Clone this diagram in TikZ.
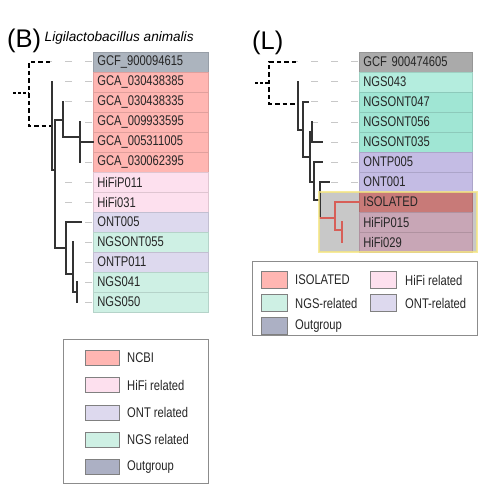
\documentclass[tikz,border=0pt]{standalone}
\usepackage{fontspec}
\setmainfont{Liberation Sans}
\newfontfamily\nf[FakeStretch=0.8]{Liberation Sans}
\definecolor{ncbi}{RGB}{255,182,178}
\definecolor{outL}{RGB}{172,180,190}
\definecolor{hifi}{RGB}{253,224,238}
\definecolor{ont}{RGB}{221,217,238}
\definecolor{ngs}{RGB}{206,240,228}
\definecolor{rout}{RGB}{170,170,170}
\definecolor{rngsa}{RGB}{180,237,222}
\definecolor{rngsb}{RGB}{160,230,212}
\definecolor{ront}{RGB}{196,188,228}
\definecolor{riso}{RGB}{200,122,120}
\definecolor{rhifi}{RGB}{200,166,182}
\definecolor{clade}{RGB}{200,200,200}
\definecolor{cladeB}{RGB}{245,230,130}
\definecolor{legout}{RGB}{172,176,196}
\definecolor{redbr}{RGB}{215,95,88}
\definecolor{leadc}{RGB}{200,200,200}
\begin{document}
\begin{tikzpicture}[x=1pt,y=-1pt,
  leafbox/.style={anchor=west, minimum height=20pt, inner xsep=4pt, inner ysep=0pt,
    text width=#1, align=left, text=black!85, line width=0.6pt,
    font=\nf\fontsize{14}{15}\selectfont},
  leafbox/.default=107pt,
  leaderline/.style={draw=leadc, line width=1pt, dash pattern=on 7pt off 13pt},
  tree/.style={draw=black!80, line width=1.3pt, line join=miter, line cap=rect},
  redtree/.style={draw=redbr, line width=1.3pt, line cap=rect},
  outg/.style={draw=black, line width=2.3pt, dash pattern=on 4.5pt off 3pt},
  rootstub/.style={draw=black, line width=2pt, dash pattern=on 2.5pt off 2.5pt},
  swatch/.style={draw=black!50, line width=0.6pt, inner sep=0pt},
  legtext/.style={anchor=west, inner sep=0pt, text=black!85, font=\nf\fontsize{14}{15}\selectfont},
  legframe/.style={draw=black!45, line width=0.7pt}
]
\useasboundingbox (0,0) rectangle (496,500);
\fill[white] (0,0) rectangle (496,500);

% titles
\node[anchor=base west, inner sep=0pt, font=\fontsize{25.5}{26}\selectfont] (tB) at (7,47.5) {(B)};
\node[anchor=base west, inner sep=0pt, font=\itshape\fontsize{13.6}{14}\selectfont] (sp) at (44.5,42) {Ligilactobacillus animalis};
\node[anchor=base west, inner sep=0pt, font=\fontsize{25.5}{26}\selectfont] (tL) at (252,49.5) {(L)};

% ---------- left panel ----------
\foreach \i/\t/\c/\tip in {0/GCF\_900094615/outL/50, 1/GCA\_030438385/ncbi/52, 2/GCA\_030438335/ncbi/63,
  3/GCA\_009933595/ncbi/80, 4/GCA\_005311005/ncbi/92, 5/GCA\_030062395/ncbi/80,
  6/HiFiP011/hifi/55, 7/HiFi031/hifi/55, 8/ONT005/ont/81, 9/NGSONT055/ngs/73,
  10/ONTP011/ont/73, 11/NGS041/ngs/77, 12/NGS050/ngs/77}{
  \coordinate (lt\i) at (\tip,{62+20*\i});
  \node[leafbox, fill=\c, draw=\c!88!black] (L\i) at (93,{62+20*\i}) {\t};
  \draw[leaderline] ([xshift=-1pt]L\i.west) -- (lt\i);
}
% outgroup bracket
\coordinate (lroot) at (29,93);
\coordinate (lin) at (51,126);
\draw[rootstub] (13,93) -- (lroot);
\draw[outg] (lt0) -- (29,62) -- (29,126) -- (lin);
% ingroup
\coordinate (lA) at (52,170);
\coordinate (lB) at (55,120);
\coordinate (lC) at (63,137);
\coordinate (lD) at (80,142);
\coordinate (lE) at (66,248);
\coordinate (lF) at (73,274);
\coordinate (lG) at (77,292);
\draw[tree] (lt1) -- (lA) -- (55,170);
\draw[tree] (63,120) -- (lB) -- (55,248) -- (lE);
\draw[tree, line width=2.6pt, line cap=butt] (55,180) -- (55,222);
\draw[tree] (lt2) -- (63,137) -- (80,137);
\draw[tree] (lt3) -- (lt5);
\draw[tree] (lD) -- (L4.west);
\draw[tree] (lt8) -- (66,222) -- (66,274) -- (lF);
\draw[tree] (lt9) -- (73,292) -- (lG);
\draw[tree] (lt11) -- (lt12);

% left legend
\draw[legframe] (63,339) rectangle (208,483);
\foreach \j/\t/\c in {0/NCBI/ncbi, 1/HiFi related/hifi, 2/ONT related/ont, 3/NGS related/ngs, 4/Outgroup/legout}{
  \node[swatch, fill=\c, minimum width=34pt, minimum height=15pt] (ls\j) at (102,{358+27.2*\j}) {};
  \node[legtext] (ll\j) at (127,{358+27.2*\j}) {\t};
}

% ---------- right panel ----------
\fill[clade] (319,192) rectangle (477,252);
\foreach \i/\t/\c/\tip in {0/GCF 900474605/rout/296, 1/NGS043/rngsa/298, 2/NGSONT047/rngsb/308,
  3/NGSONT056/rngsb/312, 4/NGSONT035/rngsb/322, 5/ONTP005/ront/322, 6/ONT001/ront/329,
  7/ISOLATED/riso/358, 8/HiFiP015/rhifi/342, 9/HiFi029/rhifi/342}{
  \coordinate (rt\i) at (\tip,{62+20*\i});
  \node[leafbox=105pt, fill=\c, draw=\c!88!black] (R\i) at (359,{62+20*\i}) {\t};
  \draw[leaderline] ([xshift=-1pt]R\i.west) -- (rt\i);
}
\coordinate (rroot) at (269,83);
\coordinate (rin) at (298,104);
\draw[rootstub] (255,83) -- (rroot);
\draw[outg] (rt0) -- (269,62) -- (269,104) -- (rin);
\coordinate (rN2) at (303,130);
\coordinate (rN3) at (310,157);
\coordinate (rN4) at (312,132);
\coordinate (rN5) at (314,182);
\coordinate (rN6) at (320,200);
\coordinate (rN7) at (335,218);
\coordinate (rN8) at (342,230);
\draw[tree] (rt1) -- (298,130) -- (rN2);
\draw[tree] (rt2) -- (303,102) -- (303,157) -- (rN3);
\draw[tree] (rN4) -- (310,132) -- (310,182) -- (rN5);
\draw[tree] (rt3) -- (312,142) -- (rt4);
\draw[tree] (rt5) -- (314,162) -- (314,200) -- (rN6);
\draw[tree] (rt6) -- (320,182) -- (320,218);
\draw[redtree] (320,218) -- (rN7);
\draw[redtree] (R7.west) -- (335,202) -- (335,230) -- (rN8);
\draw[redtree] (rt8) -- (rt9);
\draw[draw=cladeB, line width=1.4pt, opacity=0.8] (319,192) rectangle (477,252);

% right legend
\draw[legframe] (252,261) rectangle (477,335);
\foreach \j/\t/\c in {0/ISOLATED/ncbi, 1/NGS-related/ngs, 2/Outgroup/legout}{
  \node[swatch, fill=\c, minimum width=26pt, minimum height=17pt] (ra\j) at (274,{280+23*\j}) {};
  \node[legtext] (rla\j) at (295,{280+23*\j}) {\t};
}
\foreach \j/\t/\c in {0/HiFi related/hifi, 1/ONT-related/ont}{
  \node[swatch, fill=\c, minimum width=26pt, minimum height=17pt] (rb\j) at (383,{280+23*\j}) {};
  \node[legtext] (rlb\j) at (405,{280+23*\j}) {\t};
}
\end{tikzpicture}
\end{document}
